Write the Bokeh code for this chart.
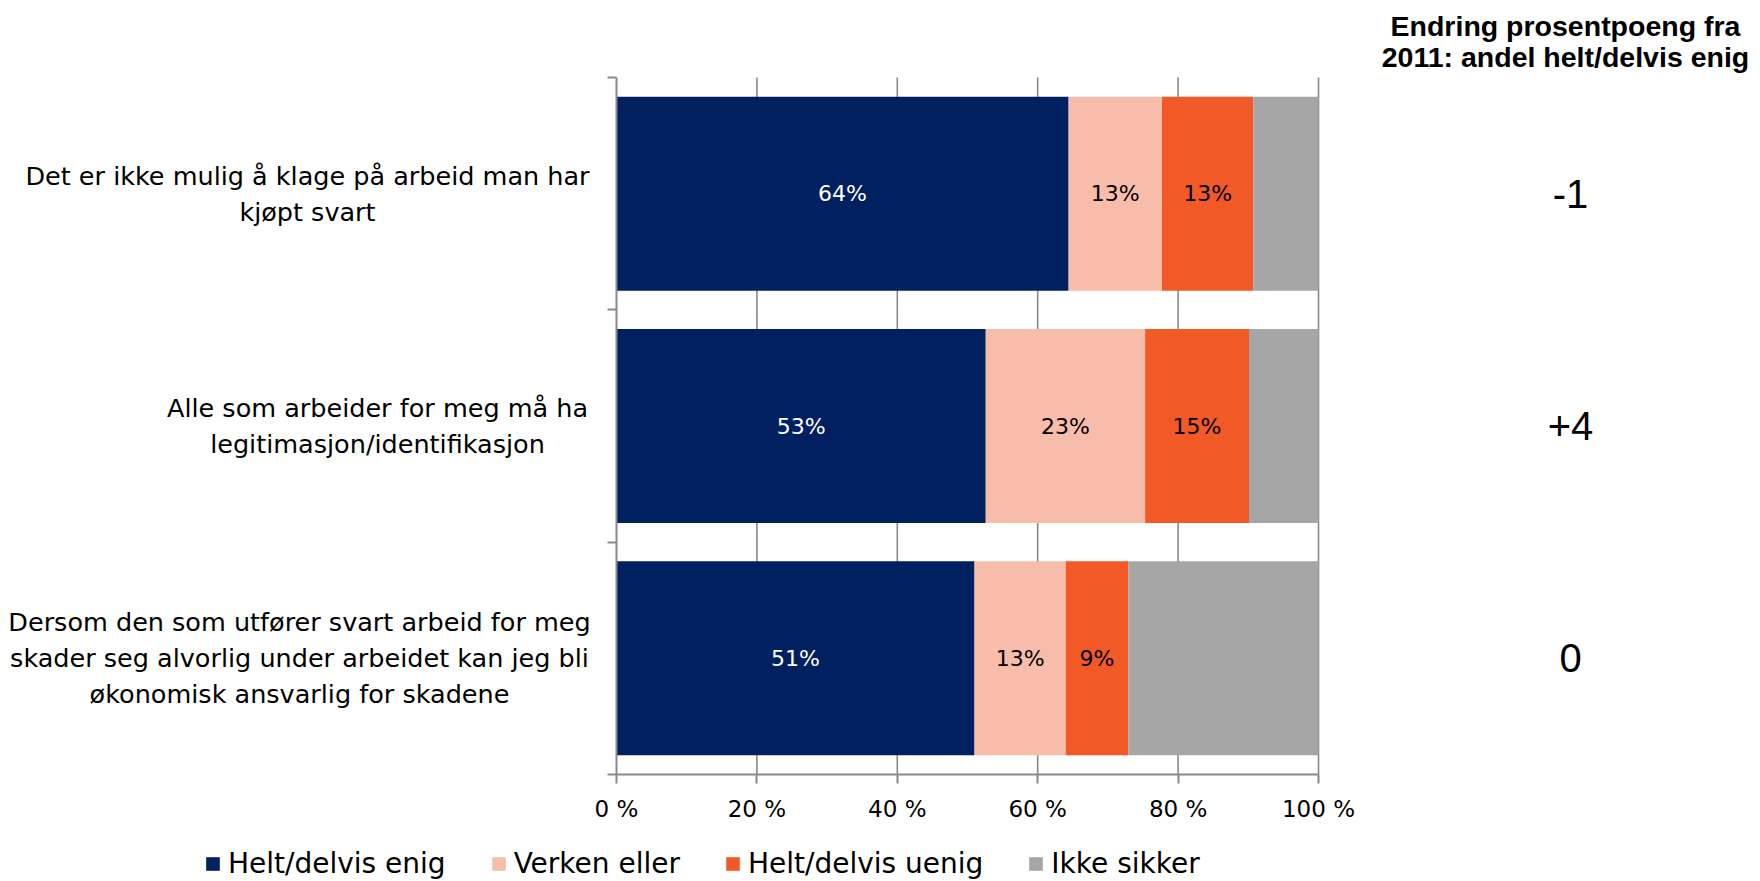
from bokeh.plotting import figure
from bokeh.models import (Range1d, FixedTicker, Legend, LegendItem,
                          ColumnDataSource, LinearAxis)
from bokeh.core.properties import value
from bokeh.embed import file_html
from bokeh.resources import INLINE

# ---- data ----
categories = [
    "Det er ikke mulig å klage på arbeid man har\nkjøpt svart",
    "Alle som arbeider for meg må ha\nlegitimasjon/identifikasjon",
    "Dersom den som utfører svart arbeid for meg\nskader seg alvorlig under arbeidet kan jeg bli\nøkonomisk ansvarlig for skadene",
]
series_names = ["Helt/delvis enig", "Verken eller", "Helt/delvis uenig", "Ikke sikker"]
enig = [64.4, 52.6, 51.0]
verken = [13.3, 22.7, 13.0]
uenig = [13.0, 14.8, 8.9]
ikke_sikker = [9.3, 9.9, 27.1]
endring = ["-1", "+4", "0"]
x_ticks = [0, 20, 40, 60, 80, 100]
x_tick_labels = ["0 %", "20 %", "40 %", "60 %", "80 %", "100 %"]
right_title = ["Endring prosentpoeng fra", "2011: andel helt/delvis enig"]

colors = ["#01205F", "#F8BDAA", "#F15A27", "#A6A6A6"]
label_colors = ["white", "black", "black", None]
FONT = "DejaVu Sans"
GRAY = "#888888"

n = len(categories)
ypos = [n - 0.5 - i for i in range(n)]  # top to bottom

# ---- canvas geometry (pixels) ----
W, H = 1752, 879
X0, X1 = 616, 1318      # pixel columns of 0 % and 100 %
Y0, Y1 = 774, 77        # pixel rows of the bottom and top of the bar area
ux = 100 / (X1 - X0)
uy = n / (Y0 - Y1)
label_centers_px = [307, 377, 299]  # centre of each category text block


def px2x(px):
    return (px - X0) * ux


def px2y(py):
    return (Y0 - py) * uy


p = figure(width=W, height=H, output_backend="svg", toolbar_location=None,
           x_range=Range1d(px2x(0), px2x(W)), y_range=Range1d(px2y(H), px2y(0)),
           x_axis_type=None, y_axis_type=None,
           min_border_left=0, min_border_right=0,
           min_border_top=0, min_border_bottom=0)
p.outline_line_color = None
p.grid.grid_line_color = None

# vertical gridlines at the x ticks (drawn under the bars)
p.segment(x0=x_ticks[1:], x1=x_ticks[1:], y0=[0] * (len(x_ticks) - 1),
          y1=[n] * (len(x_ticks) - 1), line_color=GRAY, line_width=1.6)

series = [enig, verken, uenig, ikke_sikker]
renderers = []
left = [0.0] * n
for k, vals in enumerate(series):
    right = [l + v for l, v in zip(left, vals)]
    src = ColumnDataSource(dict(y=ypos, left=left, right=right,
                                mid=[(l + r) / 2 for l, r in zip(left, right)],
                                txt=["%d%%" % round(v) for v in vals]))
    r = p.hbar(y="y", left="left", right="right", height=0.835, source=src,
               fill_color=colors[k], line_color=None)
    renderers.append(r)
    if label_colors[k] is not None:
        p.text(x="mid", y="y", text="txt", source=src, text_align="center",
               text_baseline="middle", text_color=label_colors[k],
               text_font=value(FONT), text_font_size="22px")
    left = right

# axes fixed at the bar area
xa = LinearAxis(fixed_location=0, bounds=(0, 100), ticker=FixedTicker(ticks=x_ticks))
xa.major_label_overrides = {t: s for t, s in zip(x_ticks, x_tick_labels)}
xa.major_tick_out = 9
xa.major_tick_in = 0
xa.minor_tick_line_color = None
xa.axis_line_color = GRAY
xa.axis_line_width = 2
xa.major_tick_line_color = GRAY
xa.major_tick_line_width = 2
xa.major_label_standoff = 12
xa.major_label_text_font = FONT
xa.major_label_text_font_size = "23px"
xa.major_label_text_color = "black"
p.add_layout(xa, "below")

ya = LinearAxis(fixed_location=0, bounds=(0, n), ticker=FixedTicker(ticks=list(range(n + 1))))
ya.major_label_overrides = {i: "" for i in range(n + 1)}
ya.major_tick_out = 9
ya.major_tick_in = 0
ya.minor_tick_line_color = None
ya.axis_line_color = GRAY
ya.axis_line_width = 2
ya.major_tick_line_color = GRAY
ya.major_tick_line_width = 2
p.add_layout(ya, "left")

# category labels on the left
p.text(x=[px2x(c) for c in label_centers_px], y=ypos, text=categories,
       text_align="center", text_baseline="middle", text_font=value(FONT),
       text_font_size="25.5px", text_color="black", text_line_height=1.2)

# right column: change since 2011
p.text(x=[px2x(1570)] * n, y=ypos, text=endring, text_align="center",
       text_baseline="middle", text_font=value("Liberation Sans"),
       text_font_size="40px", text_color="black")
p.text(x=[px2x(1565)] * len(right_title), y=[px2y(25), px2y(56)],
       text=right_title, text_align="center", text_baseline="middle",
       text_font=value("Liberation Sans"), text_font_style="bold",
       text_font_size="28.5px", text_color="black")

legend = Legend(items=[LegendItem(label=s, renderers=[r])
                       for s, r in zip(series_names, renderers)],
                orientation="horizontal", location=(204, -1),
                glyph_width=17, glyph_height=17, label_standoff=7,
                spacing=44, padding=0, margin=0,
                border_line_color=None, background_fill_alpha=0,
                label_text_font=FONT, label_text_font_size="28px",
                label_text_color="black")
p.add_layout(legend, "center")

open("out.html", "w").write(file_html(p, INLINE))
